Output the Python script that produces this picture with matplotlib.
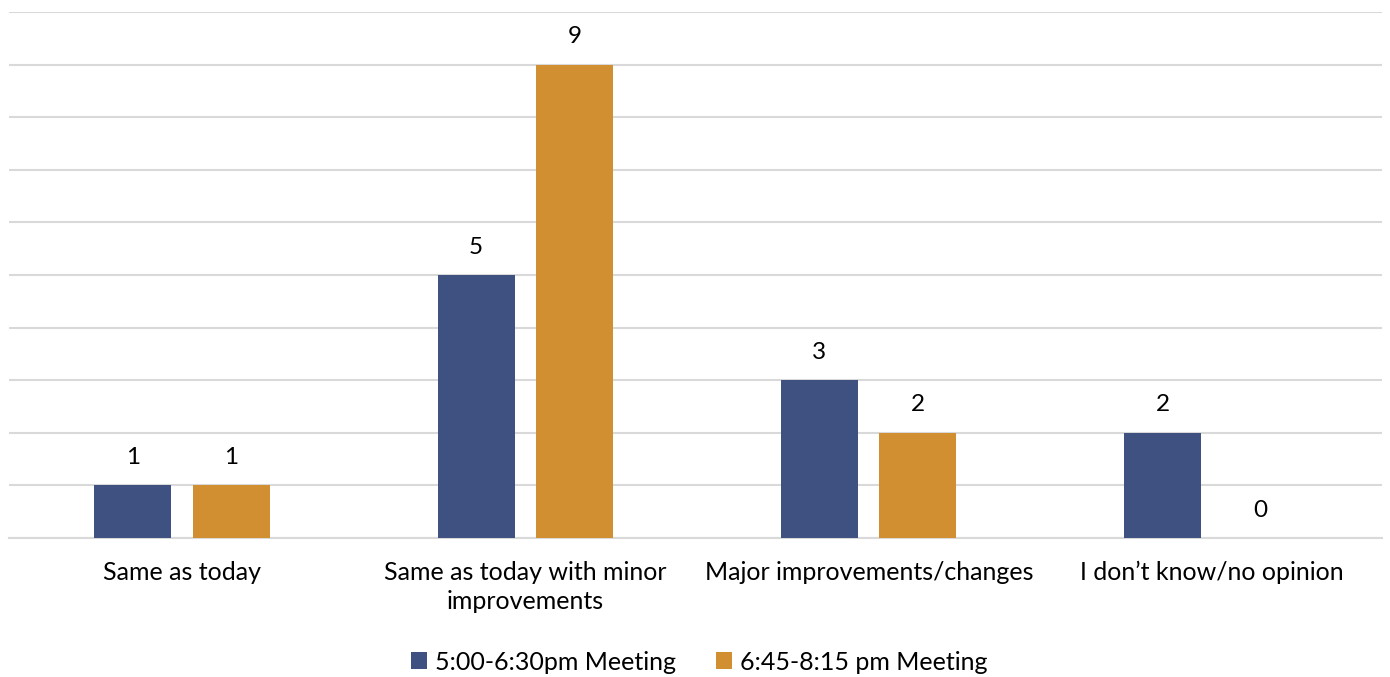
import numpy as np
import matplotlib.pyplot as plt

plt.rcParams['font.family'] = ['Lato', 'DejaVu Sans']

categories = ["Same as today", "Same as today with minor\nimprovements",
              "Major improvements/changes", "I don\u2019t know/no opinion"]
early = [1, 5, 3, 2]
late = [1, 9, 2, 0]
series_names = ["5:00-6:30pm Meeting", "6:45-8:15 pm Meeting"]
colors = ["#3f5181", "#d28f32"]

fig = plt.figure(figsize=(13.9, 6.77), dpi=100)
ax = fig.add_axes([0.0065, 0.2053, 0.9877, 0.777])

x = np.arange(len(categories))
w = 0.224
off = 0.143
b1 = ax.bar(x - off + 0.004, early, w, color=colors[0], label=series_names[0], zorder=3)
b2 = ax.bar(x + off + 0.004, late, w, color=colors[1], label=series_names[1], zorder=3)

for bars, vals in [(b1, early), (b2, late)]:
    for r, v in zip(bars, vals):
        ax.text(r.get_x() + r.get_width() / 2, v + 0.33, str(v),
                ha='center', va='bottom', fontsize=17.5, color='black')

ax.set_xlim(-0.5, len(categories) - 0.5)
ax.set_ylim(0, 10)
ax.set_yticks(np.arange(0, 11))
ax.yaxis.grid(True, color='#d9d9d9', linewidth=1.5, zorder=0)
ax.tick_params(axis='y', left=False, labelleft=False)
ax.tick_params(axis='x', bottom=False, labelsize=18, pad=13)
ax.set_xticks(x + 0.005)
ax.set_xticklabels(categories, linespacing=1.3)
for s in ['top', 'right', 'left']:
    ax.spines[s].set_visible(False)
ax.spines['bottom'].set_color('#d9d9d9')
ax.spines['bottom'].set_linewidth(1.5)

fig.legend(handles=[b1, b2], labels=series_names, loc='center',
           bbox_to_anchor=(0.503, 0.022), ncol=2, frameon=False, fontsize=18,
           handlelength=0.65, handleheight=0.65, handletextpad=0.3, columnspacing=1.6)

fig.savefig('out.png', dpi=100)
